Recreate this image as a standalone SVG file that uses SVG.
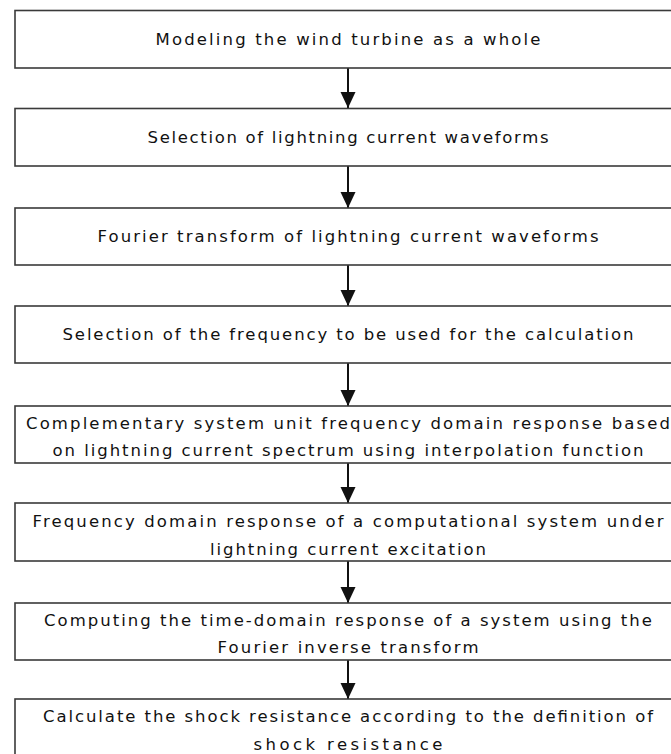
<svg xmlns="http://www.w3.org/2000/svg" width="671" height="754" viewBox="0 0 671 754">
<defs>
<style>
.box{fill:#fff;stroke:#3a3a3a;stroke-width:1.6}
.t{font-family:"DejaVu Sans","Liberation Sans",sans-serif;font-size:16.5px;fill:#111;text-anchor:middle}
.c{stroke:#111;stroke-width:2;fill:none}
</style>
<marker id="ah" viewBox="0 0 16 16" refX="16" refY="7.5" markerWidth="16" markerHeight="16" markerUnits="userSpaceOnUse" orient="auto">
<path d="M0,0 L16,7.5 L0,15 Z" fill="#111"/>
</marker>
</defs>
<rect width="671" height="754" fill="#fff"/>
<g id="connectors">
<line class="c" x1="348" y1="68" x2="348" y2="108" marker-end="url(#ah)"/>
<line class="c" x1="348" y1="166" x2="348" y2="208" marker-end="url(#ah)"/>
<line class="c" x1="348" y1="265" x2="348" y2="306" marker-end="url(#ah)"/>
<line class="c" x1="348" y1="363" x2="348" y2="406" marker-end="url(#ah)"/>
<line class="c" x1="348" y1="463" x2="348" y2="503" marker-end="url(#ah)"/>
<line class="c" x1="348" y1="561" x2="348" y2="603" marker-end="url(#ah)"/>
<line class="c" x1="348" y1="660" x2="348" y2="699" marker-end="url(#ah)"/>
</g>
<g id="n1"><rect class="box" x="15" y="10.5" width="667" height="57.5"/>
<text class="t" x="348" y="45" textLength="385" lengthAdjust="spacing">Modeling the wind turbine as a whole</text></g>
<g id="n2"><rect class="box" x="15" y="108.5" width="667" height="57.5"/>
<text class="t" x="348" y="143" textLength="401" lengthAdjust="spacing">Selection of lightning current waveforms</text></g>
<g id="n3"><rect class="box" x="15" y="208" width="667" height="57"/>
<text class="t" x="348" y="242" textLength="501" lengthAdjust="spacing">Fourier transform of lightning current waveforms</text></g>
<g id="n4"><rect class="box" x="15" y="306" width="667" height="57"/>
<text class="t" x="348" y="340" textLength="571" lengthAdjust="spacing">Selection of the frequency to be used for the calculation</text></g>
<g id="n5"><rect class="box" x="15" y="406" width="667" height="57"/>
<text class="t" x="348" y="429" textLength="644" lengthAdjust="spacing">Complementary system unit frequency domain response based</text>
<text class="t" x="348" y="456" textLength="591" lengthAdjust="spacing">on lightning current spectrum using interpolation function</text></g>
<g id="n6"><rect class="box" x="15" y="503" width="667" height="58"/>
<text class="t" x="348" y="527" textLength="631" lengthAdjust="spacing">Frequency domain response of a computational system under</text>
<text class="t" x="348" y="555" textLength="276" lengthAdjust="spacing">lightning current excitation</text></g>
<g id="n7"><rect class="box" x="15" y="603" width="667" height="57"/>
<text class="t" x="348" y="626" textLength="608" lengthAdjust="spacing">Computing the time-domain response of a system using the</text>
<text class="t" x="348" y="653" textLength="261" lengthAdjust="spacing">Fourier inverse transform</text></g>
<g id="n8"><rect class="box" x="15" y="699" width="667" height="70"/>
<text class="t" x="348" y="722" textLength="610" lengthAdjust="spacing">Calculate the shock resistance according to the definition of</text>
<text class="t" x="348" y="750" textLength="189" lengthAdjust="spacing">shock resistance</text></g>
</svg>
